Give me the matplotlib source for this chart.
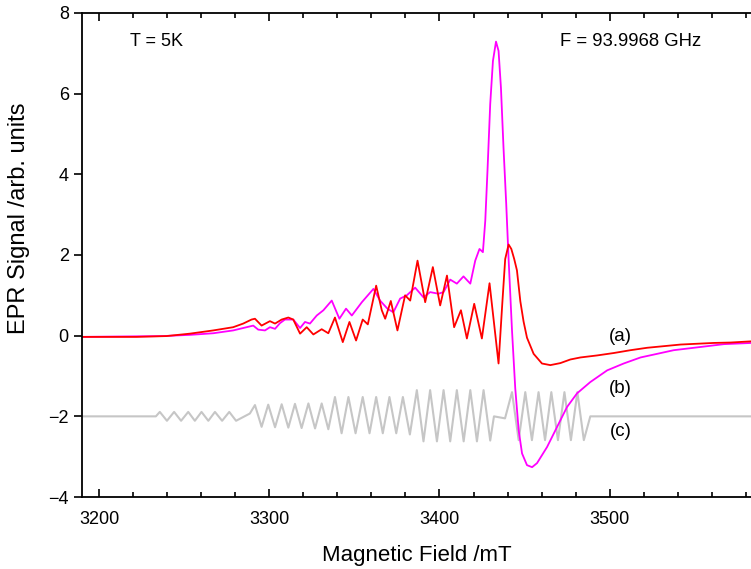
import matplotlib
matplotlib.use("Agg")
import matplotlib.pyplot as plt
from matplotlib.ticker import MultipleLocator

plt.rcParams['font.family'] = ['Liberation Sans', 'DejaVu Sans']

# (a) experimental spectrum
field_a = [3189.8, 3222.0, 3239.6, 3253.4, 3267.1, 3278.8, 3284.7, 3289.6, 3291.6, 3295.5,
           3300.4, 3303.4, 3307.3, 3311.2, 3314.1, 3318.1, 3322.0, 3325.9, 3330.8, 3334.7,
           3338.6, 3343.2, 3347.1, 3351.0, 3354.9, 3357.9, 3362.8, 3366.1, 3368.1, 3371.4,
           3375.3, 3379.8, 3382.8, 3387.1, 3391.6, 3396.1, 3400.4, 3404.4, 3408.6, 3412.6,
           3416.1, 3420.4, 3424.9, 3429.4, 3434.7, 3436.9, 3438.6, 3440.6, 3442.2, 3443.9,
           3445.5, 3447.5, 3449.4, 3451.4, 3455.3, 3460.2, 3465.1, 3471.0, 3476.9, 3482.8,
           3492.6, 3502.4, 3512.2, 3522.0, 3531.8, 3541.6, 3551.4, 3561.2, 3571.0, 3583.4]
signal_a = [-0.03, -0.03, -0.01, 0.05, 0.13, 0.21, 0.30, 0.40, 0.42, 0.25,
            0.36, 0.30, 0.40, 0.45, 0.40, 0.05, 0.21, 0.03, 0.16, 0.06,
            0.45, -0.16, 0.34, -0.12, 0.40, 0.28, 1.24, 0.63, 0.42, 0.86,
            0.13, 1.00, 0.87, 1.86, 0.83, 1.70, 0.75, 1.49, 0.21, 0.63,
            -0.07, 0.79, -0.07, 1.30, -0.69, 0.80, 1.90, 2.26, 2.15, 1.90,
            1.62, 0.85, 0.35, -0.05, -0.45, -0.69, -0.73, -0.68, -0.59, -0.54,
            -0.49, -0.43, -0.36, -0.30, -0.26, -0.22, -0.20, -0.18, -0.17, -0.14]

# (b) second spectrum
field_b = [3189.8, 3237.5, 3253.4, 3267.1, 3278.8, 3286.7, 3290.6, 3293.5, 3297.5, 3300.4,
           3303.4, 3306.3, 3309.2, 3314.1, 3318.1, 3321.0, 3323.9, 3327.9, 3331.8, 3336.7,
           3341.2, 3345.1, 3348.5, 3354.4, 3361.2, 3365.1, 3369.4, 3372.9, 3376.9, 3380.8,
           3385.7, 3390.6, 3394.5, 3399.4, 3402.4, 3406.3, 3410.2, 3414.1, 3418.1, 3421.0,
           3423.5, 3425.5, 3426.9, 3428.2, 3429.8, 3431.4, 3433.2, 3434.7, 3436.1, 3437.6,
           3439.2, 3440.6, 3442.6, 3444.5, 3446.5, 3448.5, 3451.4, 3454.4, 3457.3, 3463.2,
           3469.1, 3474.9, 3480.8, 3488.6, 3498.5, 3508.2, 3518.1, 3527.9, 3537.6, 3547.5,
           3557.3, 3567.1, 3583.4]
signal_b = [-0.03, -0.01, 0.02, 0.06, 0.13, 0.21, 0.25, 0.15, 0.13, 0.21,
            0.17, 0.31, 0.40, 0.40, 0.19, 0.34, 0.30, 0.50, 0.63, 0.87,
            0.42, 0.67, 0.50, 0.83, 1.16, 0.87, 0.67, 0.58, 0.92, 1.00,
            1.19, 0.95, 1.08, 1.04, 1.08, 1.39, 1.29, 1.47, 1.29, 1.86,
            2.15, 2.07, 2.85, 4.09, 5.74, 6.81, 7.29, 7.06, 6.15, 4.67,
            3.27, 1.90, 0.13, -1.30, -2.34, -2.92, -3.21, -3.26, -3.16, -2.76,
            -2.26, -1.77, -1.43, -1.15, -0.86, -0.69, -0.54, -0.45, -0.36, -0.31,
            -0.26, -0.21, -0.18]

# (c) simulated spectrum, offset by -2
field_c = [3190.0, 3233.4,
           3235.7, 3239.9, 3244.1, 3248.2, 3252.4, 3256.3, 3260.2, 3264.2, 3268.1, 3272.3,
           3276.5, 3280.5, 3288.6,
           3291.6, 3295.5, 3299.4, 3303.4, 3307.3, 3311.2, 3315.1, 3319.0, 3323.0, 3326.9,
           3330.8, 3334.7,
           3338.6, 3342.5, 3346.5, 3350.7, 3354.9, 3358.9, 3362.8, 3366.7, 3370.6, 3374.6,
           3378.5, 3382.6,
           3386.7, 3390.6, 3394.5, 3398.5, 3402.4, 3406.3, 3410.2, 3414.2, 3418.1, 3422.0,
           3425.9, 3429.8, 3432.0, 3438.5,
           3442.6, 3446.5, 3450.4, 3454.3, 3458.2, 3462.0, 3465.7, 3469.6, 3473.4, 3477.2,
           3481.0, 3484.8, 3488.6, 3583.0]
signal_c = [-2.00, -2.00,
            -1.89, -2.11, -1.89, -2.11, -1.89, -2.11, -1.89, -2.11, -1.89, -2.11,
            -1.89, -2.11, -1.93,
            -1.72, -2.26, -1.71, -2.27, -1.70, -2.28, -1.69, -2.29, -1.68, -2.30,
            -1.68, -2.32,
            -1.52, -2.42, -1.52, -2.42, -1.52, -2.42, -1.52, -2.42, -1.52, -2.42,
            -1.52, -2.45,
            -1.35, -2.62, -1.35, -2.62, -1.35, -2.62, -1.35, -2.62, -1.35, -2.62,
            -1.35, -2.60, -2.00, -2.05,
            -1.40, -2.59, -1.40, -2.59, -1.40, -2.59, -1.40, -2.59, -1.40, -2.59,
            -1.40, -2.59, -2.00, -2.00]

curve_tags = ["(a)", "(b)", "(c)"]
tag_y = [-0.02, -1.32, -2.38]

fig = plt.figure(figsize=(7.51, 5.69), dpi=100)
ax = fig.add_axes([0.1092, 0.1265, 0.8908, 0.8507])

line_kw = dict(solid_joinstyle='round', solid_capstyle='round')
ax.plot(field_c, signal_c, color='#c6c6c6', lw=1.5, **line_kw)
ax.plot(field_b, signal_b, color='#ff00ff', lw=1.3, **line_kw)
ax.plot(field_a, signal_a, color='#ff0000', lw=1.3, **line_kw)

for tag, ty in zip(curve_tags, tag_y):
    ax.text(3506.3, ty, tag, fontsize=13.5, ha='center', va='center')

ax.text(3218, 7.3, "T = 5K", fontsize=13, ha='left', va='center')
ax.text(3471, 7.3, "F = 93.9968 GHz", fontsize=13.3, ha='left', va='center')

ax.set_xlim(3190, 3583)
ax.set_ylim(-4, 8)
ax.xaxis.set_major_locator(MultipleLocator(100))
ax.xaxis.set_minor_locator(MultipleLocator(20))
ax.yaxis.set_major_locator(MultipleLocator(2))

ax.tick_params(axis='x', which='both', direction='in', top=True, width=1.2)
ax.tick_params(axis='x', which='major', length=6, pad=10)
ax.tick_params(axis='x', which='minor', length=3.5)
ax.tick_params(axis='y', which='major', direction='out', length=6, width=1.2)
ax.tick_params(labelsize=13)

for side in ['left', 'bottom', 'top']:
    ax.spines[side].set_linewidth(1.3)
ax.spines['right'].set_visible(False)

ax.set_xlabel("Magnetic Field /mT", fontsize=16, labelpad=12)
ax.set_ylabel("EPR Signal /arb. units", fontsize=17)
ax.yaxis.set_label_coords(-0.077, 0.575)

fig.savefig("out.png", dpi=100)
